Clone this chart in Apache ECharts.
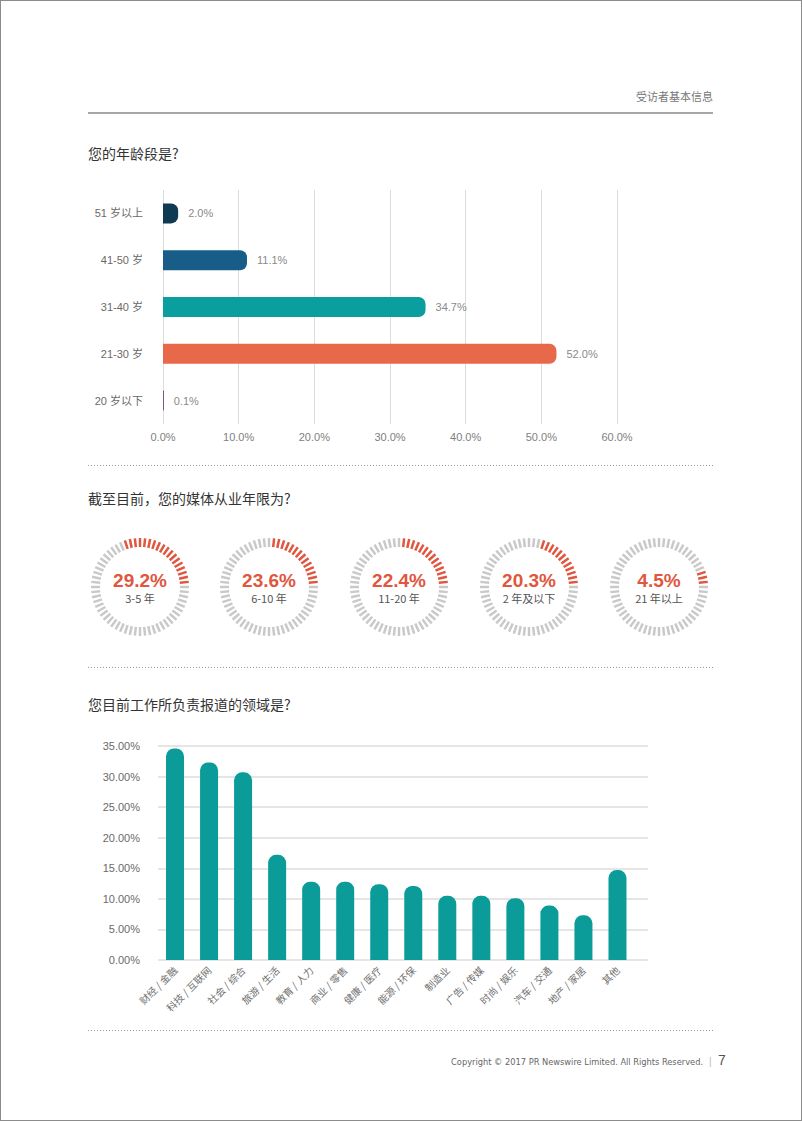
<!DOCTYPE html>
<html>
<head>
<meta charset="utf-8">
<script src="https://cdn.jsdelivr.net/npm/echarts@6/dist/echarts.min.js"></script>
<style>
  html, body { margin: 0; padding: 0; background: #fff; }
  #chart { position: absolute; left: 0; top: 0; width: 802px; height: 1121px; }
  #frame { position: absolute; left: 0; top: 0; width: 802px; height: 1121px; box-sizing: border-box; border: 1px solid #8c8c8c; pointer-events: none; }
</style>
</head>
<body>
<div id="chart"></div>
<div id="frame"></div>
<script>
// ---- Data ----
const ageCategories = ['51 岁以上', '41-50 岁', '31-40 岁', '21-30 岁', '20 岁以下'];
const ageValues = [2.0, 11.1, 34.7, 52.0, 0.1];
const ageTicks = [0, 10, 20, 30, 40, 50, 60];

const tenureLabels = ['3-5 年', '6-10 年', '11-20 年', '2 年及以下', '21 年以上'];
const tenureValues = [29.2, 23.6, 22.4, 20.3, 4.5];

const fieldCategories = ['财经 / 金融', '科技 / 互联网', '社会 / 综合', '旅游 / 生活', '教育 / 人力', '商业 / 零售', '健康 / 医疗', '能源 / 环保', '制造业', '广告 / 传媒', '时尚 / 娱乐', '汽车 / 交通', '地产 / 家居', '其他'];
const fieldValues = [34.6, 32.3, 30.7, 17.2, 12.8, 12.8, 12.4, 12.1, 10.5, 10.5, 10.1, 8.9, 7.3, 14.7];
const fieldTicks = [0, 5, 10, 15, 20, 25, 30, 35];

// ---- Styles ----
const ageColors = ['#0e3b52', '#175d88', '#0b9e9e', '#e8694a', '#5b2b5e'];
const FONT = '"Liberation Sans", "Noto Sans CJK SC", sans-serif';
const CJK = '"Noto Sans CJK SC", "Liberation Sans", sans-serif';
const teal = '#0b9c9a';
const red = '#e0563e';
const grey = '#c9c9c9';

const gaugeCenters = [140, 269, 399, 529, 659];

const chart = echarts.init(document.getElementById('chart'), null, { renderer: 'svg', width: 802, height: 1121 });

const gaugeSeries = tenureValues.map((v, i) => ({
  type: 'gauge',
  center: [gaugeCenters[i], 587],
  radius: 49,
  startAngle: 360,
  endAngle: 6,
  min: 0,
  max: 100,
  splitNumber: 59,
  axisLine: { show: false, lineStyle: { width: 0, color: [[1 - v / 100, grey], [1, red]] } },
  axisTick: { show: false },
  splitLine: { show: true, length: 9, distance: 0, lineStyle: { color: 'auto', width: 2.5 } },
  axisLabel: { show: false },
  pointer: { show: false },
  anchor: { show: false },
  progress: { show: false },
  title: { show: true, offsetCenter: [0, 11], fontSize: 11, color: '#555', fontFamily: CJK },
  detail: {
    show: true, offsetCenter: [0, -7], fontSize: 19, fontWeight: 'bold', color: red, fontFamily: FONT,
    formatter: val => val.toFixed(1) + '%'
  },
  data: [{ value: v, name: tenureLabels[i] }]
}));

const option = {
  backgroundColor: '#fff',
  animation: false,
  textStyle: { fontFamily: FONT },
  graphic: [
    { type: 'text', right: 89, top: 90, style: { text: '受访者基本信息', fontSize: 11, fill: '#777', fontFamily: CJK } },
    { type: 'line', shape: { x1: 88, y1: 113, x2: 713, y2: 113 }, style: { stroke: '#a6a6a6', lineWidth: 2 } },
    { type: 'text', left: 88, top: 146, style: { text: '您的年龄段是?', fontSize: 14, fill: '#333', fontFamily: CJK } },
    { type: 'line', shape: { x1: 88, y1: 465.5, x2: 713, y2: 465.5 }, style: { stroke: '#999', lineWidth: 1, lineDash: [1, 2] } },
    { type: 'text', left: 88, top: 491, style: { text: '截至目前，您的媒体从业年限为?', fontSize: 14, fill: '#333', fontFamily: CJK } },
    { type: 'line', shape: { x1: 88, y1: 667.5, x2: 713, y2: 667.5 }, style: { stroke: '#999', lineWidth: 1, lineDash: [1, 2] } },
    { type: 'text', left: 88, top: 697, style: { text: '您目前工作所负责报道的领域是?', fontSize: 14, fill: '#333', fontFamily: CJK } },
    { type: 'line', shape: { x1: 88, y1: 1030.5, x2: 713, y2: 1030.5 }, style: { stroke: '#999', lineWidth: 1, lineDash: [1, 2] } },
    { type: 'text', right: 99, top: 1057, style: { text: 'Copyright © 2017 PR Newswire Limited. All Rights Reserved.', fontSize: 9.2, fill: '#666', fontFamily: '"DejaVu Sans Condensed", "DejaVu Sans", sans-serif' } },
    { type: 'text', left: 709, top: 1056, style: { text: '|', fontSize: 10, fill: '#bbb', fontFamily: FONT } },
    { type: 'text', left: 718, top: 1053, style: { text: '7', fontSize: 14, fill: '#555', fontFamily: FONT } }
  ],
  grid: [
    { left: 163, top: 190, width: 454, height: 234 },
    { left: 158, top: 746, width: 490, height: 214 },
    { left: 158, top: 746, width: 476.5, height: 214 }
  ],
  xAxis: [
    {
      gridIndex: 0, type: 'value', min: ageTicks[0], max: ageTicks[ageTicks.length - 1], interval: 10,
      axisLine: { show: false }, axisTick: { show: false },
      splitLine: { show: true, lineStyle: { color: '#dcdcdc', width: 1 } },
      axisLabel: { margin: 7, fontSize: 11, color: '#808080', formatter: v => v.toFixed(1) + '%' }
    },
    { gridIndex: 1, type: 'value', min: 0, max: 1, show: false },
    {
      gridIndex: 2, type: 'category', data: fieldCategories,
      axisLine: { show: false }, axisTick: { show: false },
      axisLabel: { interval: 0, rotate: 45, margin: 8, fontSize: 10, color: '#707070', fontFamily: CJK }
    }
  ],
  yAxis: [
    {
      gridIndex: 0, type: 'category', data: ageCategories, inverse: true,
      axisLine: { show: false }, axisTick: { show: false }, splitLine: { show: false },
      axisLabel: { margin: 20, fontSize: 11, color: '#6a6a6a', fontFamily: FONT }
    },
    {
      gridIndex: 1, type: 'value', min: fieldTicks[0], max: fieldTicks[fieldTicks.length - 1], interval: 5,
      axisLine: { show: false }, axisTick: { show: false },
      splitLine: { show: true, lineStyle: { color: '#dcdcdc', width: 1.5 } },
      axisLabel: { margin: 18, fontSize: 11, color: '#6a6a6a', formatter: v => v.toFixed(2) + '%' }
    },
    { gridIndex: 2, type: 'value', min: 0, max: 35, show: false }
  ],
  series: [
    {
      type: 'bar', xAxisIndex: 0, yAxisIndex: 0, barWidth: 20,
      data: ageValues.map((v, i) => ({ value: v, itemStyle: { color: ageColors[i] } })),
      itemStyle: { borderRadius: [0, 7, 7, 0] },
      label: { show: true, position: 'right', distance: 10, fontSize: 11, color: '#8a8a8a', formatter: p => p.value.toFixed(1) + '%' }
    },
    {
      type: 'bar', xAxisIndex: 2, yAxisIndex: 2, barWidth: 18,
      data: fieldValues,
      itemStyle: { color: teal, borderRadius: [8, 8, 0, 0] }
    },
    ...gaugeSeries
  ]
};
chart.setOption(option);
</script>
</body>
</html>
